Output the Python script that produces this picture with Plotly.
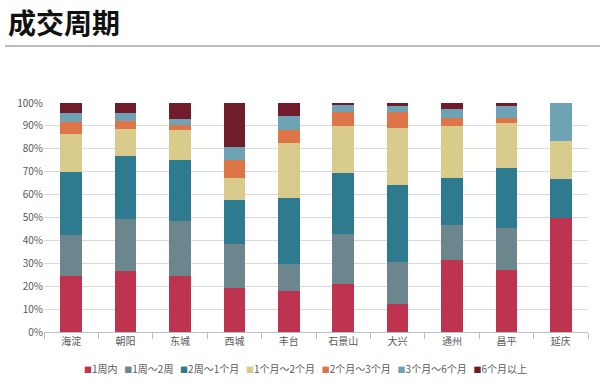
import plotly.graph_objects as go

categories = ["海淀", "朝阳", "东城", "西城", "丰台", "石景山", "大兴", "通州", "昌平", "延庆"]
series_names = ["1周内", "1周～2周", "2周～1个月", "1个月～2个月", "2个月～3个月", "3个月～6个月", "6个月以上"]

w1 = [24.6, 26.6, 24.6, 19.1, 17.8, 21.1, 12.2, 31.4, 26.9, 50.0]
w2 = [17.8, 22.9, 23.9, 19.3, 11.7, 21.7, 18.5, 15.5, 18.7, 0.0]
m1 = [27.3, 27.4, 26.8, 19.2, 29.2, 26.6, 33.3, 20.2, 26.0, 16.67]
m2 = [16.6, 11.9, 12.9, 9.8, 23.7, 20.4, 24.9, 22.7, 19.8, 16.67]
m3 = [5.4, 3.5, 2.2, 7.7, 5.7, 6.4, 7.3, 3.5, 2.2, 0.0]
m6 = [3.9, 3.3, 2.8, 5.7, 6.1, 2.9, 2.6, 4.1, 5.2, 16.66]
m6p = [4.4, 4.4, 6.8, 19.2, 5.8, 0.9, 1.2, 2.6, 1.2, 0.0]

colors = ["#BE3450", "#6B868C", "#2E7B8F", "#D8CB8C", "#DD7549", "#6EA3B5", "#701C2A"]
all_series = [w1, w2, m1, m2, m3, m6, m6p]

font_family = "Noto Sans CJK SC, Noto Sans, sans-serif"

fig = go.Figure()
for name, vals, col in zip(series_names, all_series, colors):
    fig.add_trace(go.Bar(x=categories, y=vals, name=name, showlegend=False,
                         marker=dict(color=col, line=dict(width=0))))

W, H = 600, 390
ml, mr, mt, mb = 44, 12, 103, 58
pw, ph = W - ml - mr, H - mt - mb

def py(px_y):
    return (H - mb - px_y) / ph

def px(px_x):
    return (px_x - ml) / pw

# legend built as a single text line with coloured squares
sp = "\u00a0" * 3
legend_text = sp.join(
    f"<span style='color:{c};font-size:8px'>■</span>{n}" for n, c in zip(series_names, colors)
)

fig.update_layout(
    width=W, height=H,
    margin=dict(l=ml, r=mr, t=mt, b=mb),
    barmode="stack",
    bargap=0.6,
    plot_bgcolor="white",
    paper_bgcolor="white",
    font=dict(family=font_family, size=10, color="#595959"),
    showlegend=False,
    xaxis=dict(showgrid=False, showline=True, linecolor="#BFBFBF", linewidth=1, automargin=False,
               ticks="outside", tickson="boundaries", ticklen=6, tickcolor="#BFBFBF",
               tickfont=dict(size=10, color="#595959")),
    yaxis=dict(range=[0, 100], dtick=10, ticksuffix="%", showgrid=True, gridcolor="#D9D9D9",
               gridwidth=1, zeroline=False, showline=False, automargin=False,
               tickfont=dict(size=10, color="#595959")),
    annotations=[
        dict(text="<b>成交周期</b>", xref="paper", yref="paper", x=px(6), y=py(22),
             xanchor="left", yanchor="middle", showarrow=False,
             font=dict(size=28, color="#111111", family=font_family)),
        dict(text=legend_text, xref="paper", yref="paper", x=px(305), y=py(368),
             xanchor="center", yanchor="middle", showarrow=False,
             font=dict(size=10, color="#595959", family=font_family)),
    ],
    shapes=[dict(type="line", xref="paper", yref="paper", x0=px(5), x1=px(600), y0=py(46), y1=py(46),
                 line=dict(color="#BDBDBD", width=2))],
)

fig.write_html("out.html", config={"displayModeBar": False},
               post_script="document.body.style.margin='0';")
